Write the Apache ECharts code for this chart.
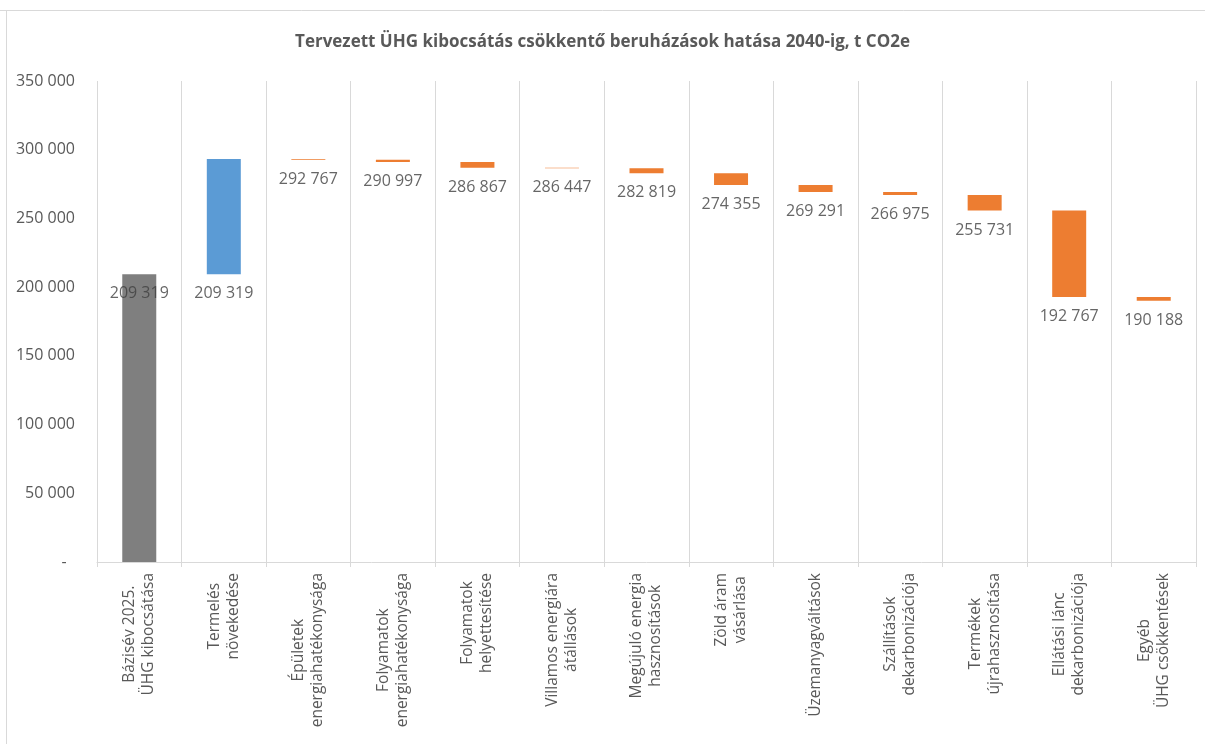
<!DOCTYPE html>
<html>
<head>
<meta charset="utf-8">
<script src="https://cdn.jsdelivr.net/npm/echarts@6/dist/echarts.min.js"></script>
<style>
html,body{margin:0;padding:0;background:#fff;}
#chart{width:1205px;height:744px;}
</style>
</head>
<body>
<div id="chart"></div>
<script>
const titleText = 'Tervezett ÜHG kibocsátás csökkentő beruházások hatása 2040-ig, t CO2e';
const categories = [
  'Bázisév 2025.\nÜHG kibocsátása',
  'Termelés\nnövekedése',
  'Épületek\nenergiahatékonysága',
  'Folyamatok\nenergiahatékonysága',
  'Folyamatok\nhelyettesítése',
  'Villamos energiára\nátállások',
  'Megújuló energia\nhasznosítások',
  'Zöld áram\nvásárlása',
  'Üzemanyagváltások',
  'Szállítások\ndekarbonizációja',
  'Termékek\nújrahasznosítása',
  'Ellátási lánc\ndekarbonizációja',
  'Egyéb\nÜHG csökkentések'
];
// running level after each step (step 1 is the top of the growth bar)
const levels = [209319, 293250, 292767, 290997, 286867, 286447, 282819, 274355, 269291, 266975, 255731, 192767, 190188];
const labelValues = [209319, 209319, 292767, 290997, 286867, 286447, 282819, 274355, 269291, 266975, 255731, 192767, 190188];
const yTicks = [0, 50000, 100000, 150000, 200000, 250000, 300000, 350000];

const colors = { base: '#7f7f7f', up: '#5b9bd5', down: '#ed7d31' };

const helper = [], visible = [];
levels.forEach((v, i) => {
  if (i === 0) { helper.push(0); visible.push({ value: v, itemStyle: { color: colors.base } }); }
  else {
    const prev = levels[i - 1];
    helper.push(Math.min(prev, v));
    visible.push({ value: Math.abs(v - prev), itemStyle: { color: v > prev ? colors.up : colors.down } });
  }
});

function fmt(v) { return String(Math.round(v)).replace(/\B(?=(\d{3})+(?!\d))/g, ' '); }

const chart = echarts.init(document.getElementById('chart'));
chart.setOption({
  animation: false,
  backgroundColor: '#ffffff',
  textStyle: { fontFamily: 'Open Sans' },
  title: {
    text: titleText, left: 'center', top: 29,
    textStyle: { fontFamily: 'Open Sans', fontWeight: 'bold', fontSize: 17, color: '#595959' }
  },
  graphic: [
    { type: 'line', shape: { x1: 0, y1: 10.5, x2: 1205, y2: 10.5 }, style: { stroke: '#d9d9d9', lineWidth: 1 }, silent: true },
    { type: 'line', shape: { x1: 6.5, y1: 10, x2: 6.5, y2: 744 }, style: { stroke: '#d9d9d9', lineWidth: 1 }, silent: true }
  ],
  grid: { left: 97, right: 9, top: 81, bottom: 182, containLabel: false },
  xAxis: {
    type: 'category',
    data: categories,
    axisLine: { lineStyle: { color: '#d9d9d9', width: 1 } },
    axisTick: { show: true, length: 5, lineStyle: { color: '#d9d9d9' } },
    splitLine: { show: true, lineStyle: { color: '#d9d9d9', width: 1 } },
    axisLabel: {
      rotate: 90, margin: 11, interval: 0,
      fontSize: 15.5, color: '#595959', fontFamily: 'Open Sans', lineHeight: 19,
      formatter: v => v.split('\n').map(s => '{c|' + s + '}').join('\n'),
      rich: { c: { align: 'center', fontSize: 15.5, color: '#595959', fontFamily: 'Open Sans', lineHeight: 19 } }
    }
  },
  yAxis: {
    type: 'value', min: 0, max: 350000, interval: 50000,
    axisLine: { show: false }, axisTick: { show: false },
    splitLine: { show: false },
    axisLabel: {
      margin: 22, fontSize: 16, color: '#595959', fontFamily: 'Open Sans',
      formatter: v => (yTicks.indexOf(v) >= 0 ? (v === 0 ? '-  ' : fmt(v)) : '')
    }
  },
  series: [
    { type: 'bar', stack: 'w', data: helper, barWidth: 34, itemStyle: { color: 'transparent' }, silent: true },
    { type: 'bar', stack: 'w', data: visible, barWidth: 34 },
    {
      type: 'scatter', data: labelValues.map((v, i) => [i, v]), symbolSize: 1,
      itemStyle: { color: 'rgba(0,0,0,0)' }, silent: true,
      label: { show: true, position: 'bottom', distance: 11, fontSize: 16, color: '#404040', fontFamily: 'Open Sans', formatter: p => fmt(p.value[1]) }
    }
  ]
});
</script>
</body>
</html>
